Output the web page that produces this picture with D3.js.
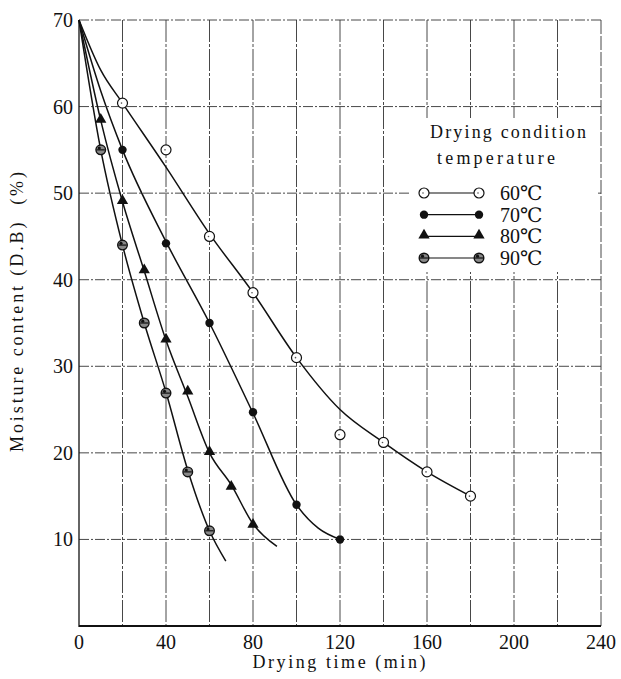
<!DOCTYPE html>
<html>
<head>
<meta charset="utf-8">
<script src="https://cdn.jsdelivr.net/npm/d3@7"></script>
<style>
  body { margin: 0; background: #fff; }
</style>
</head>
<body>
<svg></svg>
<script>
// measured points (min, % D.B)
const temps = ["60℃", "70℃", "80℃", "90℃"];
const time60 = [20, 40, 60, 80, 100, 120, 140, 160, 180];
const moist60 = [60.4, 55, 45, 38.5, 31, 22.1, 21.2, 17.8, 15];
const time70 = [20, 40, 60, 80, 100, 120];
const moist70 = [55, 44.2, 35, 24.7, 14, 10];
const time80 = [10, 20, 30, 40, 50, 60, 70, 80];
const moist80 = [58.4, 49, 41, 33, 27, 20, 16, 11.6];
const time90 = [10, 20, 30, 40, 50, 60];
const moist90 = [55, 44, 35, 26.9, 17.8, 11];

// hand drawn curves
const curveTime60 = [0, 10, 20, 40, 60, 80, 100, 120, 140, 160, 180];
const curveMoist60 = [70, 64.2, 60.4, 53, 45.3, 38.5, 31, 25, 21.2, 17.8, 15];
const curveTime70 = [0, 10, 20, 40, 60, 80, 100, 110, 120];
const curveMoist70 = [70, 61.8, 55, 44.4, 35, 24.6, 14, 11.3, 10];
const curveTime80 = [0, 10, 20, 30, 40, 50, 60, 70, 80, 91];
const curveMoist80 = [70, 58.4, 49, 41, 33, 26.5, 20, 16.3, 11.8, 9.2];
const curveTime90 = [0, 10, 20, 30, 40, 50, 60, 67.5];
const curveMoist90 = [70, 55, 44, 35, 27, 18, 11, 7.5];

const xTicks = [0, 40, 80, 120, 160, 200, 240];
const xGrid = [20, 40, 60, 80, 100, 120, 140, 160, 180, 200, 220, 240];
const yTicks = [10, 20, 30, 40, 50, 60, 70];

window.onload = function() {

    const svg = d3.select("svg")
        .attr("width", 621)
        .attr("height", 679)
        .attr("font-family", "'Liberation Serif', 'Times New Roman', 'DejaVu Serif', 'Noto Serif', serif")
        .attr("fill", "#111");

    const x = d3.scaleLinear().domain([0, 240]).range([79, 601]);
    const y = d3.scaleLinear().domain([0, 70]).range([626, 20]);

    // grid
    svg.selectAll(".vgrid")
        .data(xGrid)
        .join("line")
        .attr("class", "vgrid")
        .attr("x1", d => x(d)).attr("x2", d => x(d))
        .attr("y1", y(70)).attr("y2", y(0))
        .attr("stroke", "#333")
        .attr("stroke-width", 0.9)
        .attr("stroke-dasharray", d => d === 240 ? "14,2" : "22,2,3,2");

    svg.selectAll(".hgrid")
        .data(yTicks)
        .join("line")
        .attr("class", "hgrid")
        .attr("x1", x(0)).attr("x2", x(240))
        .attr("y1", d => y(d)).attr("y2", d => y(d))
        .attr("stroke", "#333")
        .attr("stroke-width", 0.9)
        .attr("stroke-dasharray", "10,2,2,2");

    // axes lines
    svg.append("line")
        .attr("x1", x(0)).attr("x2", x(0))
        .attr("y1", y(70)).attr("y2", y(0) + 1)
        .attr("stroke", "#111").attr("stroke-width", 1.3);
    svg.append("line")
        .attr("x1", x(0)).attr("x2", x(240))
        .attr("y1", y(0)).attr("y2", y(0))
        .attr("stroke", "#111").attr("stroke-width", 1.8);

    // legend box covers the grid
    svg.append("rect")
        .attr("x", 410).attr("y", 118)
        .attr("width", 188).attr("height", 154)
        .attr("fill", "#fff");

    // tick labels
    svg.selectAll(".xlab")
        .data(xTicks)
        .join("text")
        .attr("class", "xlab")
        .attr("x", d => x(d))
        .attr("y", y(0) + 23)
        .attr("text-anchor", "middle")
        .attr("font-size", 20)
        .text(d => d);

    svg.selectAll(".ylab")
        .data(yTicks)
        .join("text")
        .attr("class", "ylab")
        .attr("x", x(0) - 6)
        .attr("y", d => y(d) + 7)
        .attr("text-anchor", "end")
        .attr("font-size", 20)
        .text(d => d);

    svg.append("text")
        .attr("x", 339).attr("y", 668)
        .attr("text-anchor", "middle")
        .attr("font-size", 18)
        .attr("textLength", 173)
        .attr("lengthAdjust", "spacing")
        .text("Drying time (min)");

    svg.append("text")
        .attr("transform", "translate(23,452) rotate(-90)")
        .attr("font-size", 18)
        .attr("textLength", 280)
        .attr("lengthAdjust", "spacing")
        .text("Moisture content (D.B)\u00a0\u00a0(%)");

    // curves
    const series = [
        { name: temps[0], t: time60, m: moist60, ct: curveTime60, cm: curveMoist60, mark: "open" },
        { name: temps[1], t: time70, m: moist70, ct: curveTime70, cm: curveMoist70, mark: "dot" },
        { name: temps[2], t: time80, m: moist80, ct: curveTime80, cm: curveMoist80, mark: "tri" },
        { name: temps[3], t: time90, m: moist90, ct: curveTime90, cm: curveMoist90, mark: "cross" }
    ];

    const line = d3.line()
        .x(d => x(d[0]))
        .y(d => y(d[1]))
        .curve(d3.curveMonotoneX);

    svg.selectAll(".curve")
        .data(series)
        .join("path")
        .attr("class", "curve")
        .attr("d", s => line(s.ct.map((t, i) => [t, s.cm[i]])))
        .attr("fill", "none")
        .attr("stroke", "#111")
        .attr("stroke-width", 1.5);

    function drawMark(g, kind, cx, cy) {
        if (kind === "open") {
            g.append("circle").attr("cx", cx).attr("cy", cy).attr("r", 5)
                .attr("fill", "#fff").attr("stroke", "#111").attr("stroke-width", 1.2);
            g.append("circle").attr("cx", cx - 1).attr("cy", cy).attr("r", 0.8).attr("fill", "#555");
        } else if (kind === "dot") {
            g.append("circle").attr("cx", cx).attr("cy", cy).attr("r", 4.2).attr("fill", "#111");
        } else if (kind === "tri") {
            g.append("path")
                .attr("d", d3.symbol().type(d3.symbolTriangle).size(55)())
                .attr("transform", "translate(" + cx + "," + (cy - 1) + ")")
                .attr("fill", "#111");
        } else {
            g.append("circle").attr("cx", cx).attr("cy", cy).attr("r", 4.8)
                .attr("fill", "#888").attr("stroke", "#111").attr("stroke-width", 1.4);
            g.append("line").attr("x1", cx - 4).attr("x2", cx + 4)
                .attr("y1", cy).attr("y2", cy)
                .attr("stroke", "#111").attr("stroke-width", 1.2);
            g.append("circle").attr("cx", cx - 1.5).attr("cy", cy - 1.8).attr("r", 1.6).attr("fill", "#111");
        }
    }

    const marks = svg.append("g");
    series.forEach(function(s) {
        s.t.forEach(function(t, i) {
            drawMark(marks, s.mark, x(t), y(s.m[i]));
        });
    });

    // legend
    const legend = svg.append("g");
    legend.append("text")
        .attr("x", 508).attr("y", 138)
        .attr("text-anchor", "middle")
        .attr("font-size", 18)
        .attr("textLength", 156)
        .attr("lengthAdjust", "spacing")
        .text("Drying condition");
    legend.append("text")
        .attr("x", 496).attr("y", 164)
        .attr("text-anchor", "middle")
        .attr("font-size", 18)
        .attr("textLength", 118)
        .attr("lengthAdjust", "spacing")
        .text("temperature");

    const rowY = d3.scalePoint().domain(temps).range([193, 258]);
    series.forEach(function(s) {
        const ry = rowY(s.name);
        legend.append("line")
            .attr("x1", 424).attr("x2", 479)
            .attr("y1", ry).attr("y2", ry)
            .attr("stroke", "#111").attr("stroke-width", 1.1);
        drawMark(legend, s.mark, 424, ry);
        drawMark(legend, s.mark, 479, ry);
        legend.append("text")
            .attr("x", 500).attr("y", ry + 7)
            .attr("font-size", 20)
            .text(s.name);
    });
};
</script>
</body>
</html>
